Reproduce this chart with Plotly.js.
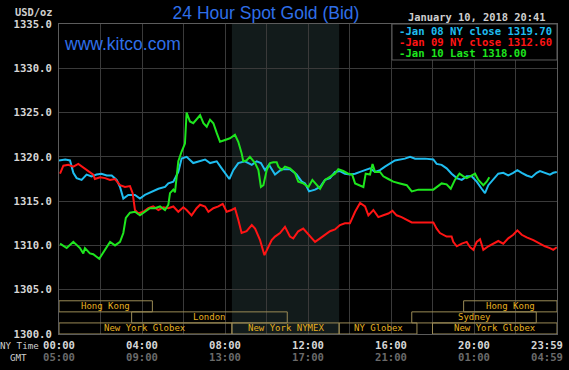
<!DOCTYPE html>
<html><head><meta charset="utf-8">
<script src="https://cdn.plot.ly/plotly-3.0.1.min.js"></script>
<style>html,body{margin:0;padding:0;background:#000;}#chart{width:569px;height:370px;}</style>
</head><body><div id="chart"></div>
<script>
// ---------- DATA (hour of NY day, price USD/oz) ----------
const jan08 = [[0.00,1319.6],[0.30,1319.7],[0.53,1319.6],[0.69,1318.2],[0.85,1317.6],[1.09,1317.4],[1.33,1318.0],[1.57,1317.8],[1.81,1318.0],[2.05,1318.1],[2.30,1317.9],[2.54,1317.9],[2.78,1317.4],[2.94,1316.6],[3.10,1315.3],[3.34,1315.7],[3.66,1315.7],[3.90,1315.3],[4.14,1315.7],[4.47,1316.1],[4.79,1316.4],[5.11,1316.6],[5.27,1317.0],[5.51,1317.2],[5.75,1318.3],[5.91,1319.8],[6.15,1320.0],[6.47,1319.3],[6.71,1319.5],[7.04,1319.7],[7.28,1319.3],[7.60,1319.5],[7.84,1318.7],[8.00,1318.2],[8.21,1317.5],[8.40,1318.5],[8.64,1319.3],[8.96,1319.5],[9.29,1319.1],[9.53,1319.5],[9.73,1319.3],[9.93,1318.5],[10.12,1319.1],[10.41,1318.0],[10.73,1318.6],[11.13,1318.6],[11.45,1318.0],[11.70,1317.2],[11.86,1317.0],[12.05,1316.1],[12.34,1316.3],[12.58,1316.6],[12.82,1317.4],[13.06,1317.6],[13.30,1318.3],[13.54,1318.4],[13.78,1318.1],[14.02,1318.0],[14.27,1318.1],[14.51,1318.3],[14.75,1318.5],[14.99,1318.7],[15.23,1318.3],[15.47,1318.5],[15.71,1318.9],[15.95,1319.3],[16.19,1319.6],[16.67,1319.8],[16.92,1320.0],[17.16,1319.8],[17.64,1319.8],[18.04,1319.7],[18.20,1319.2],[18.44,1319.1],[18.68,1318.7],[18.92,1318.1],[19.17,1317.6],[19.41,1317.4],[19.65,1317.8],[19.89,1317.8],[20.13,1317.2],[20.37,1316.4],[20.53,1315.9],[20.69,1316.8],[20.85,1317.2],[21.01,1317.6],[21.17,1318.1],[21.41,1318.2],[21.65,1317.9],[21.89,1318.2],[22.09,1318.5],[22.30,1318.2],[22.54,1317.9],[22.78,1317.7],[23.02,1318.2],[23.18,1318.4],[23.42,1318.2],[23.66,1318.0],[23.82,1318.2],[23.99,1318.3]];

const jan09 = [[0.05,1318.1],[0.21,1319.0],[0.45,1319.1],[0.69,1318.9],[0.93,1319.2],[1.17,1318.8],[1.41,1318.4],[1.65,1318.0],[1.73,1317.5],[1.98,1317.7],[2.22,1317.6],[2.46,1317.4],[2.70,1317.5],[2.94,1316.8],[3.18,1316.6],[3.42,1316.7],[3.55,1315.9],[3.66,1314.0],[3.82,1313.6],[4.06,1313.8],[4.30,1314.2],[4.54,1314.4],[4.79,1314.0],[5.03,1314.3],[5.27,1314.2],[5.51,1314.4],[5.75,1313.8],[5.99,1314.3],[6.15,1314.0],[6.39,1313.4],[6.63,1314.2],[6.80,1314.6],[7.04,1314.4],[7.20,1313.8],[7.44,1314.2],[7.68,1314.4],[7.89,1314.7],[8.08,1313.8],[8.32,1314.0],[8.48,1314.2],[8.64,1312.9],[8.80,1311.4],[9.04,1311.6],[9.29,1312.3],[9.45,1311.9],[9.69,1310.6],[9.90,1308.9],[10.09,1309.9],[10.25,1310.6],[10.41,1311.0],[10.65,1311.4],[10.89,1312.1],[11.13,1311.0],[11.29,1310.8],[11.53,1311.6],[11.77,1311.9],[12.05,1311.2],[12.34,1310.4],[12.58,1310.8],[12.82,1311.2],[13.06,1311.6],[13.30,1311.8],[13.54,1312.3],[13.78,1312.5],[14.02,1312.5],[14.27,1313.8],[14.51,1314.8],[14.75,1314.4],[14.91,1313.4],[15.15,1314.0],[15.39,1313.2],[15.63,1313.4],[15.87,1313.6],[16.07,1313.9],[16.27,1313.4],[16.51,1313.2],[16.76,1312.9],[17.00,1312.6],[18.04,1312.6],[18.20,1311.9],[18.36,1311.4],[18.68,1311.0],[18.92,1311.0],[19.00,1310.4],[19.17,1309.9],[19.41,1310.2],[19.65,1310.4],[19.81,1309.8],[19.97,1309.5],[20.13,1310.4],[20.29,1310.7],[20.45,1309.5],[20.69,1309.9],[20.93,1310.2],[21.17,1310.5],[21.41,1310.2],[21.65,1310.8],[21.89,1311.2],[22.09,1311.7],[22.30,1311.2],[22.54,1310.9],[22.86,1310.6],[23.18,1310.2],[23.42,1309.9],[23.66,1309.7],[23.82,1309.5],[23.99,1309.8]];

const jan10 = [[0.05,1310.2],[0.37,1309.7],[0.69,1310.4],[1.01,1309.7],[1.17,1309.1],[1.25,1309.7],[1.49,1309.1],[1.65,1309.0],[1.94,1308.5],[2.22,1309.6],[2.46,1310.4],[2.70,1310.0],[2.94,1310.4],[3.10,1311.4],[3.22,1313.1],[3.42,1313.7],[3.66,1313.8],[3.90,1313.4],[4.14,1313.8],[4.38,1314.2],[4.62,1314.2],[4.87,1314.4],[5.11,1314.0],[5.27,1314.6],[5.35,1315.9],[5.51,1316.3],[5.59,1316.0],[5.67,1318.1],[5.75,1319.5],[5.91,1320.6],[6.07,1321.5],[6.15,1325.0],[6.31,1324.0],[6.47,1323.8],[6.63,1324.3],[6.80,1324.7],[6.96,1323.8],[7.12,1323.4],[7.28,1324.2],[7.44,1323.8],[7.60,1322.7],[7.76,1321.7],[8.00,1321.9],[8.24,1322.1],[8.48,1322.5],[8.64,1321.7],[8.80,1320.4],[8.88,1319.5],[9.04,1319.6],[9.20,1320.0],[9.45,1319.3],[9.61,1318.5],[9.73,1316.6],[9.85,1316.8],[10.01,1318.5],[10.17,1319.3],[10.33,1319.4],[10.49,1319.4],[10.57,1318.9],[10.73,1318.5],[10.89,1318.9],[11.13,1318.7],[11.37,1318.2],[11.53,1317.2],[11.77,1317.0],[12.02,1316.6],[12.21,1317.4],[12.42,1316.8],[12.58,1316.4],[12.82,1317.4],[13.06,1317.8],[13.30,1318.1],[13.46,1318.6],[13.70,1318.4],[13.94,1318.1],[14.13,1318.0],[14.27,1317.0],[14.51,1316.8],[14.67,1316.6],[14.78,1318.1],[14.99,1318.0],[15.11,1319.2],[15.23,1318.3],[15.47,1318.3],[15.63,1317.8],[15.87,1317.5],[16.11,1317.2],[16.43,1317.0],[16.76,1316.8],[17.00,1316.1],[17.32,1316.3],[18.04,1316.3],[18.20,1316.6],[18.44,1317.0],[18.68,1316.9],[18.88,1316.4],[19.08,1317.4],[19.30,1318.1],[19.49,1317.8],[19.65,1317.6],[19.81,1317.8],[20.05,1318.1],[20.21,1317.4],[20.45,1316.8],[20.61,1317.2],[20.74,1317.7]];

const seriesNames = ['Jan 08 NY close 1319.70', 'Jan 09 NY close 1312.60', 'Jan 10 Last 1318.00'];
const nyTimes  = ['00:00','04:00','08:00','12:00','16:00','20:00','23:59'];
const gmtTimes = ['05:00','09:00','13:00','17:00','21:00','01:00','04:59'];
const tickHours = [0, 4, 8, 12, 16, 20, 24];
const gridHours = [0,2,4,6,8,10,12,14,16,18,20,22,24];
const priceTicks = [1300,1305,1310,1315,1320,1325,1330,1335];
// market sessions: name, start hour, end hour, row (1 = top row)
const sessionNames = ['Hong Kong','Hong Kong','London','Sydney','New York Globex','New York NYMEX','NY Globex','New York Globex'];
const sessionStart = [0, 19.5, 3.5, 17.0, 0, 8.333, 13.5, 18.0];
const sessionEnd   = [4.5, 24, 11.0, 23.0, 8.333, 13.5, 17.25, 24];
const sessionRow   = [1, 1, 2, 2, 3, 3, 3, 3];
const nymexSession = 5;
const headerDate = 'January 10, 2018 20:41';

// ---------- STYLE ----------
const colors = ['#1fbdf0', '#ff1414', '#1ee61e'];
const mono = 'DejaVu Sans Mono, Liberation Mono, monospace';
const gridColor = '#3a3a3a';
const frameColor = '#5c5c5c';
const shadeColor = '#121b1b';
const boxColor = '#9a8a55';
const boxText = '#e6b020';
const rowBands = {1:[1302.5,1303.75], 2:[1301.25,1302.5], 3:[1300,1301.25]};

const traces = [jan08, jan09, jan10].map((s, i) => ({
  type: 'scatter', mode: 'lines',
  x: s.map(d => d[0]), y: s.map(d => d[1]),
  name: seriesNames[i],
  line: {color: colors[i], width: 2},
  hoverinfo: 'skip'
}));

const lastLabelShift = 0.48; // keep the 23:59 label inside the window
const tickPos = tickHours.map((h, i) => i === tickHours.length - 1 ? h - lastLabelShift : h);

const shapes = [];
shapes.push({type:'rect', xref:'x', yref:'paper', x0:sessionStart[nymexSession], x1:sessionEnd[nymexSession], y0:0, y1:1,
  fillcolor:shadeColor, line:{width:0}, layer:'below'});
sessionNames.forEach((n, i) => {
  const b = rowBands[sessionRow[i]];
  shapes.push({type:'rect', xref:'x', yref:'y', x0:sessionStart[i], x1:sessionEnd[i], y0:b[0], y1:b[1],
    fillcolor:'rgba(0,0,0,0)', line:{color:boxColor, width:1}, layer:'between'});
});
// legend box
shapes.push({type:'rect', xref:'paper', yref:'paper', x0:0.6687, x1:1, y0:0.8839, y1:1,
  fillcolor:'#000', line:{color:frameColor, width:1}, layer:'above'});

const annotations = [];
sessionNames.forEach((n, i) => {
  const b = rowBands[sessionRow[i]];
  annotations.push({xref:'x', yref:'y', x:(sessionStart[i]+sessionEnd[i])/2, y:(b[0]+b[1])/2,
    text:n, showarrow:false, font:{family:mono, size:9, color:boxText}, xanchor:'center', yanchor:'middle'});
});
const legY = [0.977, 0.9419, 0.9065];
seriesNames.forEach((n, i) => {
  annotations.push({xref:'paper', yref:'paper', x:0.6787, y:legY[i], xanchor:'left', yanchor:'middle',
    text:'<b>-' + n + '</b>', showarrow:false, font:{family:mono, size:10.6, color:colors[i]}});
});
// GMT row under the NY-time tick labels
gmtTimes.forEach((t, i) => {
  annotations.push({xref:'x', yref:'paper', x:tickPos[i], y:-0.0742, xanchor:'center', yanchor:'middle',
    text:'<b>' + t + '</b>', showarrow:false, font:{family:mono, size:10.6, color:'#6a6a6a'}});
});
annotations.push({xref:'paper', yref:'paper', x:0.006, y:0.9355, xanchor:'left', yanchor:'middle',
  text:'www.kitco.com', showarrow:false, font:{family:'Liberation Sans, Arial, sans-serif', size:17.5, color:'#2f6fe8'}});
annotations.push({xref:'paper', yref:'paper', x:0.9819, y:1.0226, xanchor:'right', yanchor:'middle',
  text:'<b>' + headerDate + '</b>', showarrow:false, font:{family:mono, size:10.4, color:'#cfcfcf'}});
annotations.push({xref:'paper', yref:'paper', x:-0.008, y:1.0387, xanchor:'right', yanchor:'middle',
  text:'<b>USD/oz</b>', showarrow:false, font:{family:mono, size:10.4, color:'#cfcfcf'}});
annotations.push({xref:'paper', yref:'paper', x:-0.0361, y:-0.0355, xanchor:'right', yanchor:'middle',
  text:'NY Time', showarrow:false, font:{family:mono, size:9.2, color:'#cfcfcf'}});
annotations.push({xref:'paper', yref:'paper', x:-0.0823, y:-0.0742, xanchor:'center', yanchor:'middle',
  text:'GMT', showarrow:false, font:{family:mono, size:9.2, color:'#cfcfcf'}});

const layout = {
  width:569, height:370,
  margin:{l:59, r:12, t:24, b:36, pad:0},
  paper_bgcolor:'#000', plot_bgcolor:'#000',
  showlegend:false,
  title:{text:'24 Hour Spot Gold (Bid)', font:{family:'Liberation Sans, Arial, sans-serif', size:17.5, color:'#2f6fe8'},
    x:266/569, xanchor:'center', y:1-13/370, yanchor:'middle', xref:'container', yref:'container'},
  xaxis:{range:[0,24], tickmode:'array', tickvals:tickPos, ticktext:nyTimes, showgrid:false, zeroline:false,
    showline:true, mirror:true, linecolor:frameColor, linewidth:1, ticks:'', ticklabelstandoff:1,
    tickfont:{family:mono, size:10.6, color:'#d6d6d6', weight:'bold'},
    minor:{tickmode:'array', tickvals:gridHours, showgrid:true, gridcolor:gridColor, gridwidth:1, ticks:''},
    fixedrange:true},
  yaxis:{range:[1300,1335], tickmode:'array', tickvals:priceTicks, tickformat:'.1f', showgrid:true, gridcolor:gridColor,
    gridwidth:1, zeroline:false, showline:true, mirror:true, linecolor:frameColor, linewidth:1, ticks:'',
    ticklabelstandoff:4, tickfont:{family:mono, size:10.6, color:'#d6d6d6', weight:'bold'}, fixedrange:true},
  shapes:shapes, annotations:annotations
};

Plotly.newPlot('chart', traces, layout, {displayModeBar:false, staticPlot:true});
</script></body></html>
